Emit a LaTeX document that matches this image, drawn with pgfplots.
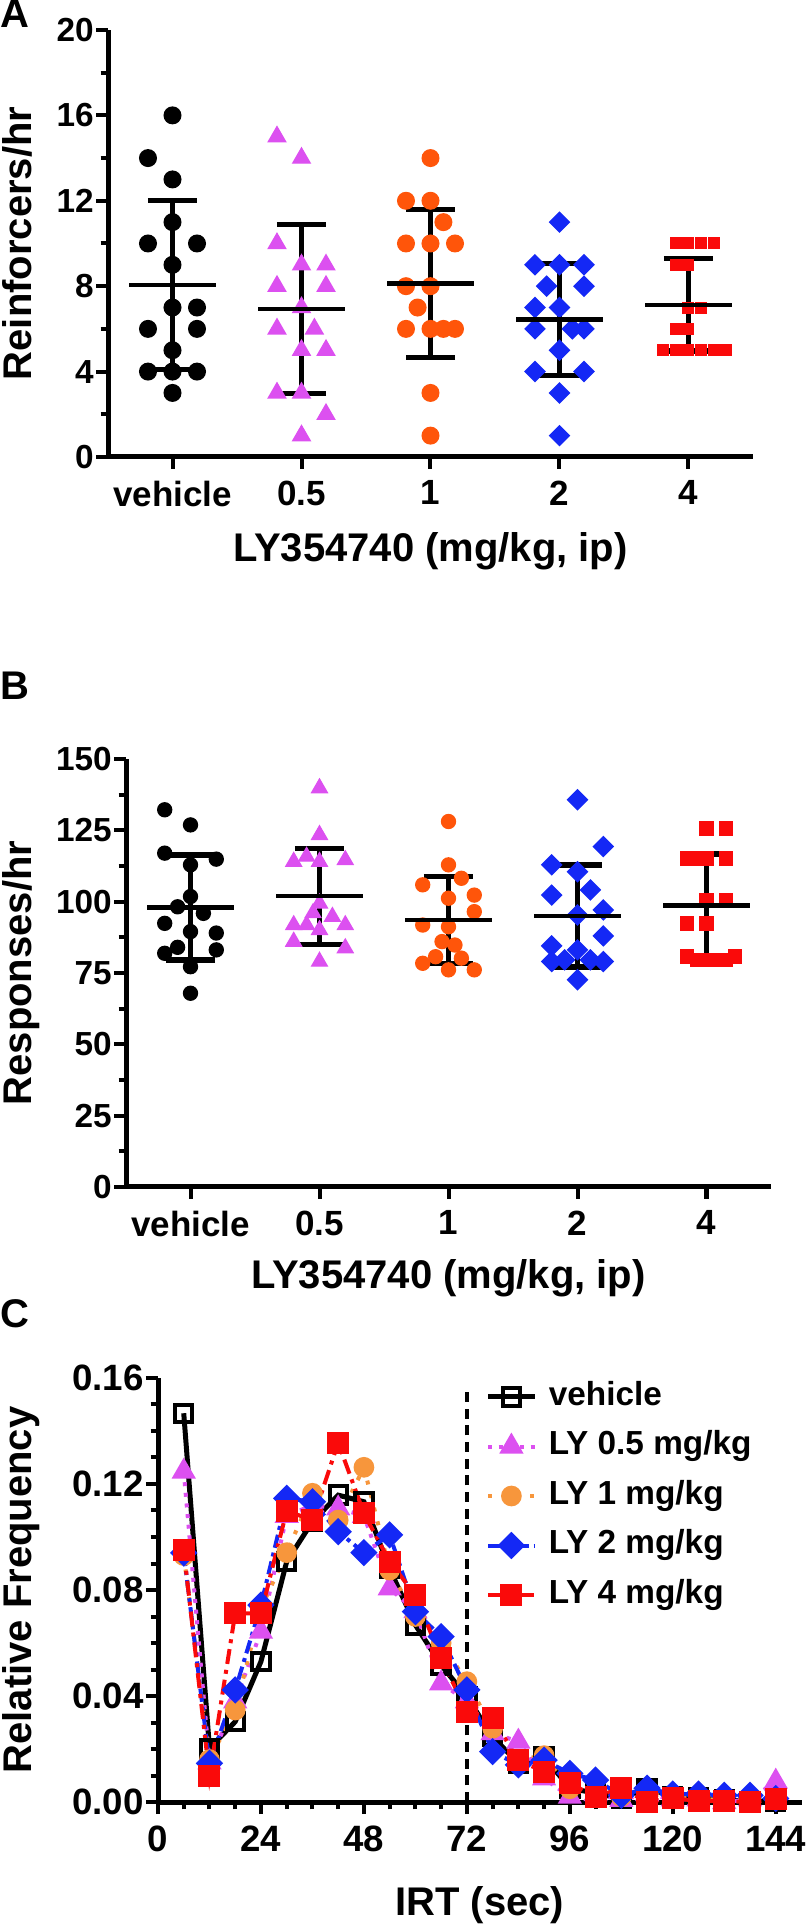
\documentclass[border=0pt]{standalone}
\usepackage{fontspec}
\setmainfont{Liberation Sans}
\usepackage{pgfplots}
\pgfplotsset{compat=1.18}
\usepackage{pgfplotstable}
\definecolor{cpink}{RGB}{220,80,240}
\definecolor{corA}{RGB}{255,85,10}
\definecolor{corC}{RGB}{247,150,60}
\definecolor{cblue}{RGB}{20,40,245}
\definecolor{cred}{RGB}{250,10,10}

% ---------------- Panel A data ----------------
\pgfplotstableread{
x y
0 16
-0.19 14
0 13
0 11
-0.19 10
0.19 10
0 9
0 7
0.19 7
-0.19 6
0.19 6
0 5
-0.19 4
0 4
0.19 4
0 3
}\Aveh
\pgfplotstableread{
x y
0.81 15
1 14
0.81 10
1 9
1.19 9
0.81 8
1.19 8
1 7
0.81 6
1.1 6
1 5
1.19 5
0.81 3
1 3
1.19 2
1 1
}\Apink
\pgfplotstableread{
x y
2 14
1.81 12
2 12
2.1 11
1.81 10
2 10
2.19 10
1.81 8
2 8
1.9 7
1.81 6
2 6
2.1 6
2.19 6
2 3
2 1
}\Aor
\pgfplotstableread{
x y
3 11
2.81 9
3 9
3.19 9
2.9 8
3.19 8
2.81 7
3 7
2.81 6
3.1 6
3.19 6
3 5
2.81 4
3.19 4
3 3
3 1
}\Ablue
\pgfplotstableread{
x y
3.9 10
4 10
4.1 10
4.2 10
3.9 9
4 9
4 7
4.1 7
3.9 6
4 6
3.8 5
3.9 5
4 5
4.1 5
4.2 5
4.29 5
}\Ared
\pgfplotstableread{
x m sd
0 8.06 3.96
1 6.94 3.96
2 8.13 3.46
3 6.44 2.61
4 7.13 2.16
}\Astats

% ---------------- Panel B data ----------------
\pgfplotstableread{
x y
-0.2 132.2
0 126.9
-0.2 117
0.2 114.9
0 112.9
0 101.8
-0.1 98.2
0.1 95.9
-0.2 92.4
0 89.5
0.2 89
-0.1 84
-0.2 81.9
0.2 83.1
0 77.2
0 67.9
}\Bveh
\pgfplotstableread{
x y
1 139.8
1 123.4
0.9 115.8
0.8 114
1 114
1.2 114.6
1 99.4
0.95 96
1.1 94.7
0.8 91.8
0.9 91.8
1.2 91.8
1 90.1
0.8 86
1.2 83.7
1 79
}\Bpink
\pgfplotstableread{
x y
2 128.1
2 112.9
2.1 108.2
1.8 105.9
2.2 102.3
2 101.2
2.2 96.5
1.8 91.8
2 91.2
1.95 86
2.05 84.8
1.9 80.7
2.1 80.2
1.8 78.4
2 76.1
2.2 76.1
}\Bor
\pgfplotstableread{
x y
3 135.7
3.2 119.3
2.8 112.9
3 110.5
3.1 104.1
2.8 102.3
3.2 97.1
3 95.3
3.2 88
2.8 84.5
3 83.1
2.8 79
2.9 79.6
3.1 79.6
3.2 79
3 72.6
}\Bblue
\pgfplotstableread{
x y
4 125.7
4.15 125.7
3.85 115.2
3.93 115.2
4 115.2
4.15 115.2
4 100.6
4.15 100.6
3.85 92.4
4 92.4
3.85 80.7
3.93 79.6
4 79.6
4.07 79.6
4.15 79.6
4.22 80.7
}\Bred
\pgfplotstableread{
x m sd
0 97.9 18.4
1 101.9 16.8
2 93.6 15.2
3 95.0 17.9
4 98.6 18.1
}\Bstats

% ---------------- Panel C data ----------------
\pgfplotstableread{
t veh p05 p1 p2 p4
6 0.1467 0.1247 0.093 0.094 0.0951
12 0.0203 0.015 0.016 0.0146 0.0098
18 0.0303 0.038 0.0347 0.0423 0.0712
24 0.0530 0.0643 0.073 0.0743 0.0712
30 0.0907 0.108 0.0941 0.1146 0.1099
36 0.1058 0.112 0.1165 0.1133 0.1063
42 0.1158 0.1108 0.1064 0.102 0.1356
48 0.1133 0.108 0.1263 0.0941 0.1089
54 0.088 0.0806 0.0875 0.1008 0.0907
60 0.0668 0.072 0.070 0.0718 0.0781
66 0.0517 0.0448 0.060 0.0624 0.0542
72 0.0397 0.038 0.0454 0.0423 0.0341
78 0.0246 0.026 0.0278 0.019 0.0316
84 0.0146 0.0228 0.016 0.014 0.0158
90 0.0171 0.0089 0.0175 0.0158 0.0114
96 0.0052 0.002 0.005 0.0108 0.0070
102 0.0033 0.003 0.004 0.0083 0.002
108 0.0013 0.0008 0.002 0.0025 0.0052
114 0.0052 0.003 0.003 0.0052 0.0
120 0.002 0.001 0.002 0.003 0.0015
126 0.0015 0.001 0.001 0.003 0.0003
132 0.0008 0.0 0.001 0.0025 0.0003
138 0.0003 0.001 0.001 0.0025 0.0
144 0.0003 0.0077 0.001 0.0013 0.001
}\Cdata

\pgfplotsset{
  panel/.style={
    scale only axis, clip=false,
    axis x line*=bottom, axis y line*=left,
    axis line style={line width=1.5pt,-},
    tick align=outside,
    major tick length=3.6pt, minor tick length=2.2pt,
    major tick style={line width=1.2pt, black},
    minor tick style={line width=1.2pt, black},
    tick label style={font=\bfseries\fontsize{10}{10}\selectfont},
    xticklabel style={font=\bfseries\fontsize{10.5}{10.5}\selectfont},
    /pgf/number format/assume math mode=true,
    label style={font=\bfseries\fontsize{12}{12}\selectfont},
    yticklabel style={inner xsep=0.5pt},
  },
  cat/.style={
    panel, width=193.5pt,
    xmin=-0.5, xmax=4.5, xtick={0,1,2,3,4},
    xticklabels={vehicle,0.5,1,2,4},
    xlabel={LY354740 (mg/kg, ip)},
    ymin=0,
  },
  stats/.style={
    black, only marks, mark=-, mark size=13pt,
    mark options={line width=1.35pt},
    error bars/.cd, y dir=both, y explicit,
    error bar style={line width=1.5pt, black},
    error mark=|,
    error mark options={line width=1.6pt, mark size=7.4pt, black},
  },
}

\begin{document}
\begin{tikzpicture}
\useasboundingbox (0,0) rectangle (242.7pt,577.8pt);

\node[anchor=base west, inner sep=0pt, font=\bfseries\fontsize{12}{12}\selectfont] at (0pt,569.4pt) {A};
\node[anchor=base west, inner sep=0pt, font=\bfseries\fontsize{12}{12}\selectfont] at (0pt,367.8pt) {B};
\node[anchor=base west, inner sep=0pt, font=\bfseries\fontsize{12}{12}\selectfont] at (0pt,179.4pt) {C};

% ---------------- Panel A ----------------
\begin{axis}[cat, at={(32.4pt,440.7pt)}, anchor=south west, height=128.1pt,
  ymax=20, ytick={0,4,8,12,16,20}, minor y tick num=1,
  ylabel={Reinforcers/hr},
  ylabel style={at={(axis description cs:-0.119,0.5)}, anchor=base, inner sep=0pt},
  xlabel style={at={(axis description cs:0.5,0)}, anchor=base, yshift=-31.5pt},
]
\addplot[only marks, mark=*, mark size=2.5pt, black] table {\Aveh};
\addplot[only marks, mark=triangle*, mark size=3pt, cpink, mark options={draw=cpink, fill=cpink}] table {\Apink};
\addplot[only marks, mark=*, mark size=2.5pt, corA] table {\Aor};
\addplot[only marks, mark=square*, mark size=2.1pt, cblue, mark options={rotate=45}] table {\Ablue};
\addplot[only marks, mark=square*, mark size=1.6pt, cred] table {\Ared};
\addplot[stats] table[x=x, y=m, y error=sd] {\Astats};
\end{axis}

% ---------------- Panel B ----------------
\begin{axis}[cat, at={(37.8pt,221.7pt)}, anchor=south west, height=128.4pt,
  ymax=150, ytick={0,25,50,75,100,125,150}, minor y tick num=1,
  ylabel={Responses/hr},
  ylabel style={at={(axis description cs:-0.146,0.5)}, anchor=base, inner sep=0pt},
  xlabel style={at={(axis description cs:0.5,0)}, anchor=base, yshift=-30.6pt},
]
\addplot[only marks, mark=*, mark size=2.1pt, black] table {\Bveh};
\addplot[only marks, mark=triangle*, mark size=2.7pt, cpink] table {\Bpink};
\addplot[only marks, mark=*, mark size=2.1pt, corA] table {\Bor};
\addplot[only marks, mark=square*, mark size=2.1pt, cblue, mark options={rotate=45}] table {\Bblue};
\addplot[only marks, mark=square*, mark size=2pt, cred] table {\Bred};
\addplot[stats] table[x=x, y=m, y error=sd] {\Bstats};
\end{axis}

% ---------------- Panel C ----------------
\begin{axis}[panel, at={(47.4pt,37.2pt)}, anchor=south west,
  width=193.05pt, height=127.2pt,
  xmin=0, xmax=150, xtick={0,24,48,72,96,120,144}, minor x tick num=3,
  ymin=0, ymax=0.16, ytick={0,0.04,0.08,0.12,0.16},
  yticklabels={0.00,0.04,0.08,0.12,0.16}, minor y tick num=3,
  tick label style={font=\bfseries\fontsize{11}{11}\selectfont},
  xticklabel style={font=\bfseries\fontsize{11}{11}\selectfont},
  xlabel={IRT (sec)}, ylabel={Relative Frequency},
  ylabel style={at={(axis description cs:-0.197,0.5)}, anchor=base, inner sep=0pt},
  xlabel style={at={(axis description cs:0.5,0)}, anchor=base, yshift=-33.9pt},
  legend image code/.code={\draw[mark repeat=2, mark phase=2, #1] plot coordinates {(0pt,0pt) (7pt,0pt) (14pt,0pt)};},
  legend cell align=left,
  legend style={draw=none, fill=none, at={(axis description cs:0.508,1.0)}, anchor=north west,
    font=\bfseries\fontsize{10}{10}\selectfont, row sep=3.85pt, column sep=0pt, inner sep=0pt,
    nodes={text height=8pt, text depth=3pt, inner ysep=0pt, inner xsep=3.5pt}},
]
\addplot[forget plot, black, line width=1.2pt, dash pattern=on 3pt off 2pt] coordinates {(72,0) (72,0.155)};
\addplot[black, line width=1.5pt, mark=square, mark size=2.6pt, mark options={solid, fill=white, line width=1.2pt}] table[x=t, y=veh] {\Cdata};
\addlegendentry{vehicle}
\addplot[cpink, line width=1.2pt, dash pattern=on 1.2pt off 2pt, mark=triangle*, mark size=3pt, mark options={solid}] table[x=t, y=p05] {\Cdata};
\addlegendentry{LY 0.5 mg/kg}
\addplot[corC, line width=1.2pt, dash pattern=on 1.2pt off 3pt, mark=*, mark size=2.5pt, mark options={solid}] table[x=t, y=p1] {\Cdata};
\addlegendentry{LY 1 mg/kg}
\addplot[cblue, line width=1.2pt, dash pattern=on 4pt off 1.5pt on 1.2pt off 1.5pt, mark=square*, mark size=2.3pt, mark options={solid, rotate=45}] table[x=t, y=p2] {\Cdata};
\addlegendentry{LY 2 mg/kg}
\addplot[cred, line width=1.2pt, dash pattern=on 4.5pt off 1.8pt on 1.2pt off 1.8pt, mark=square*, mark size=2.7pt, mark options={solid}] table[x=t, y=p4] {\Cdata};
\addlegendentry{LY 4 mg/kg}
\end{axis}
\end{tikzpicture}
\end{document}
